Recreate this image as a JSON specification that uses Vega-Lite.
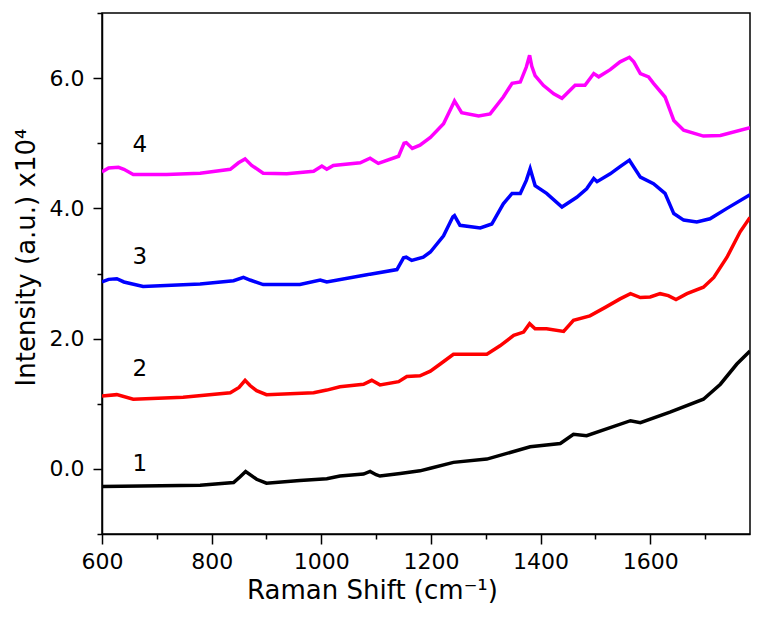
{
  "$schema": "https://vega.github.io/schema/vega-lite/v6.json",
  "width": 648,
  "height": 521,
  "autosize": "none",
  "padding": {"left": 102, "top": 13, "right": 12, "bottom": 90},
  "background": "white",
  "config": {
    "view": {"stroke": "black", "strokeWidth": 1.5},
    "font": "DejaVu Sans"
  },
  "datasets": {
    "spectra": [
      {"s": "4", "x": 600, "y": 4.56}, {"s": "4", "x": 612, "y": 4.62}, {"s": "4", "x": 630, "y": 4.63}, {"s": "4", "x": 640, "y": 4.6}, {"s": "4", "x": 657, "y": 4.52}, {"s": "4", "x": 718, "y": 4.52}, {"s": "4", "x": 779, "y": 4.54}, {"s": "4", "x": 834, "y": 4.6}, {"s": "4", "x": 849, "y": 4.7}, {"s": "4", "x": 861, "y": 4.76}, {"s": "4", "x": 873, "y": 4.66}, {"s": "4", "x": 894, "y": 4.54}, {"s": "4", "x": 937, "y": 4.53}, {"s": "4", "x": 986, "y": 4.57}, {"s": "4", "x": 1001, "y": 4.65}, {"s": "4", "x": 1010, "y": 4.6}, {"s": "4", "x": 1022, "y": 4.66}, {"s": "4", "x": 1071, "y": 4.7}, {"s": "4", "x": 1089, "y": 4.77}, {"s": "4", "x": 1104, "y": 4.69}, {"s": "4", "x": 1141, "y": 4.8}, {"s": "4", "x": 1151, "y": 5.0}, {"s": "4", "x": 1155, "y": 5.01}, {"s": "4", "x": 1166, "y": 4.92}, {"s": "4", "x": 1180, "y": 4.97}, {"s": "4", "x": 1199, "y": 5.09}, {"s": "4", "x": 1223, "y": 5.3}, {"s": "4", "x": 1238, "y": 5.56}, {"s": "4", "x": 1243, "y": 5.65}, {"s": "4", "x": 1256, "y": 5.47}, {"s": "4", "x": 1287, "y": 5.42}, {"s": "4", "x": 1308, "y": 5.45}, {"s": "4", "x": 1332, "y": 5.71}, {"s": "4", "x": 1348, "y": 5.92}, {"s": "4", "x": 1363, "y": 5.94}, {"s": "4", "x": 1374, "y": 6.17}, {"s": "4", "x": 1380, "y": 6.35}, {"s": "4", "x": 1384, "y": 6.18}, {"s": "4", "x": 1390, "y": 6.04}, {"s": "4", "x": 1405, "y": 5.89}, {"s": "4", "x": 1424, "y": 5.76}, {"s": "4", "x": 1439, "y": 5.69}, {"s": "4", "x": 1463, "y": 5.89}, {"s": "4", "x": 1481, "y": 5.89}, {"s": "4", "x": 1497, "y": 6.07}, {"s": "4", "x": 1506, "y": 6.02}, {"s": "4", "x": 1527, "y": 6.13}, {"s": "4", "x": 1545, "y": 6.25}, {"s": "4", "x": 1562, "y": 6.32}, {"s": "4", "x": 1570, "y": 6.25}, {"s": "4", "x": 1582, "y": 6.07}, {"s": "4", "x": 1597, "y": 6.02}, {"s": "4", "x": 1606, "y": 5.92}, {"s": "4", "x": 1627, "y": 5.71}, {"s": "4", "x": 1643, "y": 5.35}, {"s": "4", "x": 1661, "y": 5.2}, {"s": "4", "x": 1697, "y": 5.11}, {"s": "4", "x": 1728, "y": 5.12}, {"s": "4", "x": 1782, "y": 5.24},

      {"s": "3", "x": 600, "y": 2.87}, {"s": "3", "x": 612, "y": 2.91}, {"s": "3", "x": 627, "y": 2.92}, {"s": "3", "x": 640, "y": 2.87}, {"s": "3", "x": 675, "y": 2.8}, {"s": "3", "x": 779, "y": 2.84}, {"s": "3", "x": 840, "y": 2.89}, {"s": "3", "x": 858, "y": 2.94}, {"s": "3", "x": 870, "y": 2.9}, {"s": "3", "x": 894, "y": 2.83}, {"s": "3", "x": 961, "y": 2.83}, {"s": "3", "x": 998, "y": 2.9}, {"s": "3", "x": 1010, "y": 2.87}, {"s": "3", "x": 1083, "y": 2.98}, {"s": "3", "x": 1089, "y": 2.99}, {"s": "3", "x": 1138, "y": 3.06}, {"s": "3", "x": 1150, "y": 3.24}, {"s": "3", "x": 1155, "y": 3.25}, {"s": "3", "x": 1165, "y": 3.2}, {"s": "3", "x": 1186, "y": 3.25}, {"s": "3", "x": 1199, "y": 3.33}, {"s": "3", "x": 1223, "y": 3.58}, {"s": "3", "x": 1240, "y": 3.87}, {"s": "3", "x": 1243, "y": 3.89}, {"s": "3", "x": 1253, "y": 3.74}, {"s": "3", "x": 1290, "y": 3.7}, {"s": "3", "x": 1311, "y": 3.76}, {"s": "3", "x": 1332, "y": 4.07}, {"s": "3", "x": 1348, "y": 4.23}, {"s": "3", "x": 1363, "y": 4.23}, {"s": "3", "x": 1374, "y": 4.43}, {"s": "3", "x": 1381, "y": 4.61}, {"s": "3", "x": 1390, "y": 4.35}, {"s": "3", "x": 1411, "y": 4.23}, {"s": "3", "x": 1439, "y": 4.02}, {"s": "3", "x": 1466, "y": 4.17}, {"s": "3", "x": 1484, "y": 4.3}, {"s": "3", "x": 1497, "y": 4.46}, {"s": "3", "x": 1503, "y": 4.41}, {"s": "3", "x": 1527, "y": 4.53}, {"s": "3", "x": 1545, "y": 4.64}, {"s": "3", "x": 1562, "y": 4.74}, {"s": "3", "x": 1582, "y": 4.48}, {"s": "3", "x": 1606, "y": 4.38}, {"s": "3", "x": 1627, "y": 4.23}, {"s": "3", "x": 1643, "y": 3.92}, {"s": "3", "x": 1661, "y": 3.82}, {"s": "3", "x": 1685, "y": 3.79}, {"s": "3", "x": 1709, "y": 3.84}, {"s": "3", "x": 1740, "y": 4.0}, {"s": "3", "x": 1782, "y": 4.21},

      {"s": "2", "x": 600, "y": 1.12}, {"s": "2", "x": 627, "y": 1.14}, {"s": "2", "x": 657, "y": 1.07}, {"s": "2", "x": 748, "y": 1.1}, {"s": "2", "x": 834, "y": 1.17}, {"s": "2", "x": 850, "y": 1.25}, {"s": "2", "x": 861, "y": 1.36}, {"s": "2", "x": 870, "y": 1.28}, {"s": "2", "x": 882, "y": 1.2}, {"s": "2", "x": 900, "y": 1.14}, {"s": "2", "x": 986, "y": 1.17}, {"s": "2", "x": 1010, "y": 1.21}, {"s": "2", "x": 1034, "y": 1.26}, {"s": "2", "x": 1077, "y": 1.3}, {"s": "2", "x": 1092, "y": 1.36}, {"s": "2", "x": 1107, "y": 1.29}, {"s": "2", "x": 1141, "y": 1.34}, {"s": "2", "x": 1156, "y": 1.42}, {"s": "2", "x": 1180, "y": 1.43}, {"s": "2", "x": 1199, "y": 1.5}, {"s": "2", "x": 1217, "y": 1.61}, {"s": "2", "x": 1241, "y": 1.76}, {"s": "2", "x": 1302, "y": 1.76}, {"s": "2", "x": 1326, "y": 1.89}, {"s": "2", "x": 1351, "y": 2.05}, {"s": "2", "x": 1369, "y": 2.1}, {"s": "2", "x": 1380, "y": 2.23}, {"s": "2", "x": 1390, "y": 2.15}, {"s": "2", "x": 1411, "y": 2.15}, {"s": "2", "x": 1442, "y": 2.11}, {"s": "2", "x": 1460, "y": 2.28}, {"s": "2", "x": 1490, "y": 2.35}, {"s": "2", "x": 1518, "y": 2.48}, {"s": "2", "x": 1545, "y": 2.61}, {"s": "2", "x": 1564, "y": 2.69}, {"s": "2", "x": 1582, "y": 2.63}, {"s": "2", "x": 1600, "y": 2.64}, {"s": "2", "x": 1618, "y": 2.69}, {"s": "2", "x": 1633, "y": 2.66}, {"s": "2", "x": 1647, "y": 2.6}, {"s": "2", "x": 1667, "y": 2.69}, {"s": "2", "x": 1697, "y": 2.79}, {"s": "2", "x": 1716, "y": 2.94}, {"s": "2", "x": 1740, "y": 3.25}, {"s": "2", "x": 1764, "y": 3.64}, {"s": "2", "x": 1782, "y": 3.86},

      {"s": "1", "x": 600, "y": -0.27}, {"s": "1", "x": 779, "y": -0.25}, {"s": "1", "x": 840, "y": -0.21}, {"s": "1", "x": 852, "y": -0.12}, {"s": "1", "x": 862, "y": -0.04}, {"s": "1", "x": 872, "y": -0.1}, {"s": "1", "x": 882, "y": -0.16}, {"s": "1", "x": 900, "y": -0.22}, {"s": "1", "x": 961, "y": -0.18}, {"s": "1", "x": 1010, "y": -0.15}, {"s": "1", "x": 1034, "y": -0.11}, {"s": "1", "x": 1077, "y": -0.08}, {"s": "1", "x": 1089, "y": -0.04}, {"s": "1", "x": 1100, "y": -0.09}, {"s": "1", "x": 1107, "y": -0.11}, {"s": "1", "x": 1144, "y": -0.07}, {"s": "1", "x": 1180, "y": -0.03}, {"s": "1", "x": 1199, "y": 0.01}, {"s": "1", "x": 1241, "y": 0.1}, {"s": "1", "x": 1302, "y": 0.15}, {"s": "1", "x": 1381, "y": 0.34}, {"s": "1", "x": 1436, "y": 0.39}, {"s": "1", "x": 1460, "y": 0.53}, {"s": "1", "x": 1484, "y": 0.51}, {"s": "1", "x": 1564, "y": 0.74}, {"s": "1", "x": 1582, "y": 0.71}, {"s": "1", "x": 1636, "y": 0.87}, {"s": "1", "x": 1697, "y": 1.07}, {"s": "1", "x": 1728, "y": 1.3}, {"s": "1", "x": 1758, "y": 1.61}, {"s": "1", "x": 1782, "y": 1.81}
    ],
    "labels": [
      {"s": "4", "x": 669, "y": 4.97},
      {"s": "3", "x": 669, "y": 3.25},
      {"s": "2", "x": 669, "y": 1.53},
      {"s": "1", "x": 669, "y": 0.07}
    ]
  },
  "layer": [
    {
      "data": {"name": "spectra"},
      "mark": {"type": "line", "strokeWidth": 3.5, "interpolate": "linear", "clip": true},
      "encoding": {
        "x": {
          "field": "x", "type": "quantitative",
          "scale": {"domain": [600, 1782], "nice": false, "zero": false},
          "axis": {
            "title": "Raman Shift (cm⁻¹)",
            "titleFont": "DejaVu Sans", "titleFontSize": 26, "titleFontWeight": "normal", "titleColor": "black",
            "titleX": 270, "titlePadding": 5,
            "values": [600, 700, 800, 900, 1000, 1100, 1200, 1300, 1400, 1500, 1600, 1700],
            "labelExpr": "datum.value % 200 === 0 ? datum.label : ''",
            "format": "d",
            "labelFont": "DejaVu Sans", "labelFontSize": 22, "labelColor": "black", "labelPadding": 7,
            "labelFlush": false,
            "tickSize": {"condition": {"test": "datum.value % 200 === 0", "value": 10}, "value": 5},
            "tickColor": "black", "tickWidth": 1.5,
            "domainColor": "black", "domainWidth": 1.5,
            "grid": false
          }
        },
        "y": {
          "field": "y", "type": "quantitative",
          "scale": {"domain": [-1, 7], "nice": false, "zero": false},
          "axis": {
            "title": "Intensity (a.u.)  x10⁴",
            "titleFont": "DejaVu Sans", "titleFontSize": 26, "titleFontWeight": "normal", "titleColor": "black",
            "titleY": 244, "titlePadding": 10,
            "values": [-1, 0, 1, 2, 3, 4, 5, 6, 7],
            "labelExpr": "(datum.value % 2 === 0) ? format(datum.value, '.1f') : ''",
            "labelFont": "DejaVu Sans", "labelFontSize": 22, "labelColor": "black", "labelPadding": 9,
            "labelFlush": false,
            "tickSize": {"condition": {"test": "datum.value % 2 === 0", "value": 9}, "value": 5},
            "tickColor": "black", "tickWidth": 1.5,
            "domainColor": "black", "domainWidth": 1.5,
            "grid": false
          }
        },
        "color": {
          "field": "s", "type": "nominal",
          "scale": {"domain": ["1", "2", "3", "4"], "range": ["#000000", "#ff0000", "#0000ff", "#ff00ff"]},
          "legend": null
        },
        "order": {"field": "x", "type": "quantitative"}
      }
    },
    {
      "data": {"name": "labels"},
      "mark": {"type": "text", "font": "DejaVu Sans", "fontSize": 23, "color": "black", "align": "center", "baseline": "middle"},
      "encoding": {
        "x": {"field": "x", "type": "quantitative"},
        "y": {"field": "y", "type": "quantitative"},
        "text": {"field": "s", "type": "nominal"}
      }
    }
  ]
}
